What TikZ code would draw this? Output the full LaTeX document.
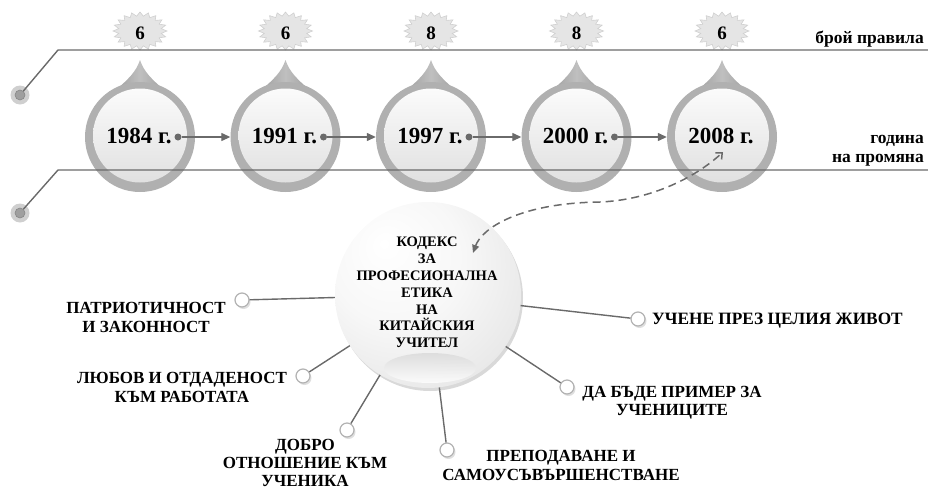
\documentclass[tikz,border=0pt]{standalone}
\usepackage{fontspec}
\setmainfont{Liberation Serif}
\usetikzlibrary{arrows.meta,shadows,calc}
\definecolor{lc}{HTML}{6A6A6A}
\pgfdeclareradialshading{sph}{\pgfpoint{-12bp}{14bp}}{color(0bp)=(white); color(18bp)=(gray!6); color(40bp)=(gray!22); color(52bp)=(gray!42); color(64bp)=(gray!58)}
\begin{document}
\begin{tikzpicture}[x=1pt,y=1pt,
 hline/.style={draw=lc, line width=1.4pt},
 ringsty/.style={circle, fill=gray!62, minimum size=110pt, inner sep=0pt},
 innersty/.style={circle, top color=gray!3, bottom color=gray!24, minimum size=94pt, inner sep=0pt},
 yearsty/.style={font=\fontsize{23}{25}\selectfont\bfseries, anchor=base, inner sep=0pt},
 numsty/.style={font=\fontsize{19}{20}\selectfont\bfseries, anchor=base, inner sep=0pt},
 dotsty/.style={circle, fill=lc, minimum size=7pt, inner sep=0pt},
 arr/.style={draw=lc, line width=1.3pt, -{Triangle[length=9pt,width=8pt]}},
 rlab/.style={font=\fontsize{17.5}{19}\selectfont\bfseries, inner sep=0pt},
 lab/.style={font=\fontsize{17}{19}\selectfont\bfseries, align=center, inner sep=0pt},
 ktxt/.style={font=\fontsize{14.5}{16.8}\selectfont\bfseries, align=center, inner sep=0pt},
 spk/.style={circle, fill=white, draw=gray!60, line width=1.2pt, minimum size=14pt, inner sep=0pt, drop shadow={opacity=0.25, shadow xshift=1.5pt, shadow yshift=-2pt}},
 spline/.style={draw=lc, line width=1.4pt},
 lcout/.style={circle, fill=gray!38, minimum size=19pt, inner sep=0pt},
 lcin/.style={circle, fill=gray!75, draw=gray!95, line width=0.6pt, minimum size=10pt, inner sep=0pt},
 dsh/.style={draw=lc, line width=1.5pt, dash pattern=on 8pt off 5pt, {Triangle[length=8pt,width=7pt]}-{Straight Barb[length=5pt,width=9pt]}}
]
\useasboundingbox (0,0) rectangle (928,-490);

% drops with stars
\foreach \i/\cx/\yr/\n in {1/140/1984/6, 2/285.5/1991/6, 3/431/1997/8, 4/576.5/2000/8, 5/722/2008/6}{
  \filldraw[fill=gray!20, draw=gray!38, line width=0.6pt]
    (\cx+27,-31) \foreach \k in {1,...,39}{ -- ({\cx+ifthenelse(mod(\k,2)==0,27,21.5)*cos(\k*9)}, {-31+ifthenelse(mod(\k,2)==0,19,15)*sin(\k*9)}) } -- cycle;
  \node[numsty] (n\i) at (\cx,-39.5) {\n};
  \shade[left color=gray!78, right color=gray!78, middle color=gray!50]
    (\cx,-60) .. controls (\cx-4,-72) and (\cx-12,-80) .. (\cx-28,-93) -- (\cx+28,-93) .. controls (\cx+12,-80) and (\cx+4,-72) .. (\cx,-60) -- cycle;
  \node[ringsty] (r\i) at (\cx,-137) {};
  \node[innersty] (c\i) at (\cx,-135.5) {};
  \node[yearsty] (y\i) at (\cx-1,-143) {\yr\ г.};
}
\foreach \i/\j in {1/2,2/3,3/4,4/5}{
  \node[dotsty] (d\i) at ($(r\i)+(38,0)$) {};
  \draw[arr] (d\i) -- (r\j.west);
}

% left lines
\node[lcout] (lo1) at (20,-95) {};
\node[lcin] (li1) at (20,-95) {};
\node[lcout] (lo2) at (20,-213) {};
\node[lcin] (li2) at (20,-213) {};
\coordinate (k1) at (58,-50);
\coordinate (e1) at (928,-50);
\coordinate (k2) at (58,-170);
\coordinate (e2) at (928,-170);
\draw[hline] (li1) -- (k1) -- (e1);
\draw[hline] (li2) -- (k2) -- (e2);

\node[rlab, anchor=base east] (br) at (924,-43) {брой правила};
\node[rlab, anchor=base east] (go) at (924,-143) {година};
\node[rlab, anchor=base east] (np) at (924,-162) {на промяна};

% sphere
\node[circle, minimum size=186pt, inner sep=0pt, shade, shading=sph,
      drop shadow={opacity=0.3, shadow xshift=2pt, shadow yshift=-3pt}] (kodeks) at (428,-295) {};
\shade[top color=gray!30, bottom color=white, opacity=0.8] (430,-368) ellipse [x radius=46pt, y radius=15pt];
\node[ktxt] (kt) at (427,-292.5) {КОДЕКС\\ЗА\\ПРОФЕСИОНАЛНА\\ЕТИКА\\НА\\КИТАЙСКИЯ\\УЧИТЕЛ};

% spokes
\node[spk] (s1) at (242,-300) {};
\node[spk] (s2) at (303,-376) {};
\node[spk] (s3) at (347,-430) {};
\node[spk] (s4) at (447,-450) {};
\node[spk] (s5) at (567,-387) {};
\node[spk] (s6) at (638,-319) {};
\foreach \s in {1,...,6}{ \draw[spline] (kodeks) -- (s\s); }

\node[lab] (l1) at (146,-317) {ПАТРИОТИЧНОСТ\\И ЗАКОННОСТ};
\node[lab] (l2) at (182,-387.5) {ЛЮБОВ И ОТДАДЕНОСТ\\КЪМ РАБОТАТА};
\node[lab, font=\fontsize{17}{18}\selectfont\bfseries] (l3) at (305,-462.5) {ДОБРО\\ОТНОШЕНИЕ КЪМ\\УЧЕНИКА};
\node[lab] (l4) at (561,-465) {ПРЕПОДАВАНЕ И\\САМОУСЪВЪРШЕНСТВАНЕ};
\node[lab, font=\fontsize{17}{18}\selectfont\bfseries] (l5) at (672,-402.5) {ДА БЪДЕ ПРИМЕР ЗА\\УЧЕНИЦИТЕ};
\node[rlab, font=\fontsize{17.3}{19}\selectfont\bfseries, anchor=base west] (l6) at (652,-324) {УЧЕНЕ ПРЕЗ ЦЕЛИЯ ЖИВОТ};

% dashed link
\coordinate (dA) at (473,-253);
\coordinate (dB) at (723,-152);
\draw[dsh] (dA) .. controls (482,-228) and (520,-203) .. (600,-202) .. controls (650,-200) and (695,-178) .. (dB);
\end{tikzpicture}
\end{document}
